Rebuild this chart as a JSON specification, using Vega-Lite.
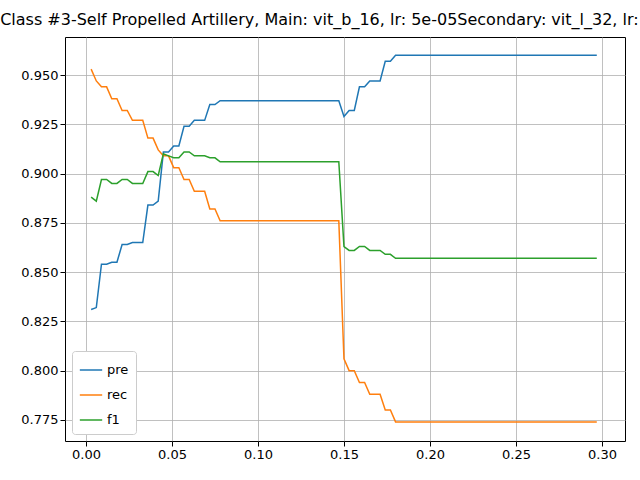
{
  "$schema": "https://vega.github.io/schema/vega-lite/v6.json",
  "width": 560,
  "height": 404,
  "autosize": "none",
  "padding": {"left": 65, "top": 37, "right": 15, "bottom": 39},
  "background": "white",
  "title": {"text": "Class #3-Self Propelled Artillery, Main: vit_b_16, lr: 5e-05Secondary: vit_l_32, lr: 5e-05", "font": "DejaVu Sans", "fontSize": 16, "fontWeight": "normal", "offset": 9, "anchor": "middle"},
  "config": {"view": {"stroke": "black", "strokeWidth": 1}, "axis": {"labelFont": "DejaVu Sans", "labelFontSize": 13, "labelColor": "black", "domain": false, "tickColor": "black", "tickSize": 5, "grid": true, "gridColor": "#b0b0b0", "gridWidth": 0.8, "title": null}},
  "data": {"values": [
    {"t":0.003,"m":"pre","v":0.831},{"t":0.006,"m":"pre","v":0.832},{"t":0.009,"m":"pre","v":0.854},{"t":0.012,"m":"pre","v":0.854},{"t":0.015,"m":"pre","v":0.855},{"t":0.018,"m":"pre","v":0.855},{"t":0.021,"m":"pre","v":0.864},{"t":0.024,"m":"pre","v":0.864},{"t":0.027,"m":"pre","v":0.865},{"t":0.033,"m":"pre","v":0.865},{"t":0.036,"m":"pre","v":0.884},{"t":0.039,"m":"pre","v":0.884},{"t":0.042,"m":"pre","v":0.886},{"t":0.045,"m":"pre","v":0.911},{"t":0.048,"m":"pre","v":0.911},{"t":0.051,"m":"pre","v":0.914},{"t":0.054,"m":"pre","v":0.914},{"t":0.057,"m":"pre","v":0.924},{"t":0.060,"m":"pre","v":0.924},{"t":0.063,"m":"pre","v":0.927},{"t":0.069,"m":"pre","v":0.927},{"t":0.072,"m":"pre","v":0.935},{"t":0.075,"m":"pre","v":0.935},{"t":0.078,"m":"pre","v":0.937},{"t":0.147,"m":"pre","v":0.937},{"t":0.150,"m":"pre","v":0.929},{"t":0.153,"m":"pre","v":0.932},{"t":0.156,"m":"pre","v":0.932},{"t":0.159,"m":"pre","v":0.944},{"t":0.162,"m":"pre","v":0.944},{"t":0.165,"m":"pre","v":0.947},{"t":0.171,"m":"pre","v":0.947},{"t":0.174,"m":"pre","v":0.957},{"t":0.177,"m":"pre","v":0.957},{"t":0.180,"m":"pre","v":0.960},{"t":0.297,"m":"pre","v":0.960},
    {"t":0.003,"m":"rec","v":0.953},{"t":0.006,"m":"rec","v":0.947},{"t":0.009,"m":"rec","v":0.944},{"t":0.012,"m":"rec","v":0.944},{"t":0.015,"m":"rec","v":0.938},{"t":0.018,"m":"rec","v":0.938},{"t":0.021,"m":"rec","v":0.932},{"t":0.024,"m":"rec","v":0.932},{"t":0.027,"m":"rec","v":0.927},{"t":0.033,"m":"rec","v":0.927},{"t":0.036,"m":"rec","v":0.918},{"t":0.039,"m":"rec","v":0.918},{"t":0.042,"m":"rec","v":0.912},{"t":0.045,"m":"rec","v":0.909},{"t":0.048,"m":"rec","v":0.909},{"t":0.051,"m":"rec","v":0.903},{"t":0.054,"m":"rec","v":0.903},{"t":0.057,"m":"rec","v":0.897},{"t":0.060,"m":"rec","v":0.897},{"t":0.063,"m":"rec","v":0.891},{"t":0.069,"m":"rec","v":0.891},{"t":0.072,"m":"rec","v":0.882},{"t":0.075,"m":"rec","v":0.882},{"t":0.078,"m":"rec","v":0.876},{"t":0.147,"m":"rec","v":0.876},{"t":0.150,"m":"rec","v":0.806},{"t":0.153,"m":"rec","v":0.800},{"t":0.156,"m":"rec","v":0.800},{"t":0.159,"m":"rec","v":0.794},{"t":0.162,"m":"rec","v":0.794},{"t":0.165,"m":"rec","v":0.788},{"t":0.171,"m":"rec","v":0.788},{"t":0.174,"m":"rec","v":0.780},{"t":0.177,"m":"rec","v":0.780},{"t":0.180,"m":"rec","v":0.774},{"t":0.297,"m":"rec","v":0.774},
    {"t":0.003,"m":"f1","v":0.888},{"t":0.006,"m":"f1","v":0.886},{"t":0.009,"m":"f1","v":0.897},{"t":0.012,"m":"f1","v":0.897},{"t":0.015,"m":"f1","v":0.895},{"t":0.018,"m":"f1","v":0.895},{"t":0.021,"m":"f1","v":0.897},{"t":0.024,"m":"f1","v":0.897},{"t":0.027,"m":"f1","v":0.895},{"t":0.033,"m":"f1","v":0.895},{"t":0.036,"m":"f1","v":0.901},{"t":0.039,"m":"f1","v":0.901},{"t":0.042,"m":"f1","v":0.899},{"t":0.045,"m":"f1","v":0.910},{"t":0.048,"m":"f1","v":0.909},{"t":0.051,"m":"f1","v":0.908},{"t":0.054,"m":"f1","v":0.908},{"t":0.057,"m":"f1","v":0.911},{"t":0.060,"m":"f1","v":0.911},{"t":0.063,"m":"f1","v":0.909},{"t":0.069,"m":"f1","v":0.909},{"t":0.072,"m":"f1","v":0.908},{"t":0.075,"m":"f1","v":0.908},{"t":0.078,"m":"f1","v":0.906},{"t":0.147,"m":"f1","v":0.906},{"t":0.150,"m":"f1","v":0.863},{"t":0.153,"m":"f1","v":0.861},{"t":0.156,"m":"f1","v":0.861},{"t":0.159,"m":"f1","v":0.863},{"t":0.162,"m":"f1","v":0.863},{"t":0.165,"m":"f1","v":0.861},{"t":0.171,"m":"f1","v":0.861},{"t":0.174,"m":"f1","v":0.859},{"t":0.177,"m":"f1","v":0.859},{"t":0.180,"m":"f1","v":0.857},{"t":0.297,"m":"f1","v":0.857}
  ]},
  "mark": {"type": "line", "strokeWidth": 1.5},
  "encoding": {
    "x": {"field": "t", "type": "quantitative", "scale": {"domain": [-0.0122, 0.3134], "nice": false, "zero": false}, "axis": {"values": [0, 0.05, 0.1, 0.15, 0.2, 0.25, 0.3], "format": ".2f"}},
    "y": {"field": "v", "type": "quantitative", "scale": {"domain": [0.7643, 0.9693], "nice": false, "zero": false}, "axis": {"values": [0.775, 0.8, 0.825, 0.85, 0.875, 0.9, 0.925, 0.95], "format": ".3f"}},
    "color": {"field": "m", "type": "nominal", "scale": {"domain": ["pre", "rec", "f1"], "range": ["#1f77b4", "#ff7f0e", "#2ca02c"]},
      "legend": {"title": null, "orient": "bottom-left", "offset": 7, "symbolType": "stroke", "symbolSize": 500, "symbolStrokeWidth": 1.5, "labelFont": "DejaVu Sans", "labelFontSize": 13, "strokeColor": "#cccccc", "fillColor": "white", "padding": 7, "cornerRadius": 3, "rowPadding": 6}}
  }
}
